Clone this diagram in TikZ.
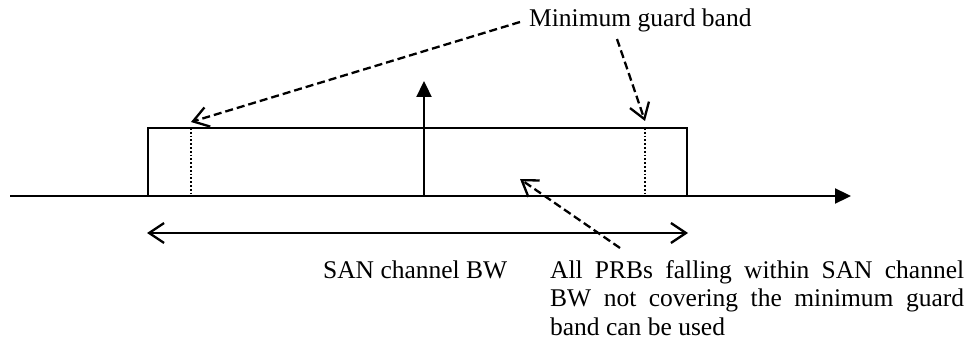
\documentclass[tikz,border=0pt]{standalone}
\usepackage{fontspec}
\setmainfont{Liberation Serif}
\usetikzlibrary{arrows.meta}
\begin{document}
\begin{tikzpicture}[x=1pt,y=-1pt,
  line width=2.3pt,
  lbl/.style={inner sep=0pt,anchor=base west,font=\fontsize{25.5}{28.5}\selectfont},
  barb/.style={-{Straight Barb[length=15pt,width=20pt,line width=2.3pt]}},
  dbarb/.style={{Straight Barb[length=15pt,width=20pt,line width=2.3pt]}-{Straight Barb[length=15pt,width=20pt,line width=2.3pt]}},
  filled/.style={-{Triangle[length=16pt,width=15pt]}},
  dsh/.style={dash pattern=on 8pt off 4pt}]
\useasboundingbox (0,0) rectangle (967,342);
% axis
\coordinate (ax0) at (10,196);
\coordinate (ax1) at (851,196);
\draw[filled] (ax0) -- (ax1);
% channel box
\coordinate (bl) at (148,196);
\coordinate (tr) at (687,128);
\draw (bl) |- (tr) -- (687,196);
% vertical arrow
\coordinate (v0) at (424,196);
\coordinate (v1) at (424,81);
\draw[filled] (v0) -- (v1);
% dotted guard lines
\coordinate (g1t) at (191,128);
\coordinate (g1b) at (191,196);
\coordinate (g2t) at (645,128);
\coordinate (g2b) at (645,196);
\draw[line width=1.8pt,dotted] (g1t) -- (g1b);
\draw[line width=1.8pt,dotted] (g2t) -- (g2b);
% BW double arrow
\coordinate (bw0) at (147,233);
\coordinate (bw1) at (688,233);
\draw[dbarb] (bw0) -- (bw1);
% labels
\node[lbl] (mgb) at (528,27) {Minimum guard band};
\node[lbl] (san) at (322,278) {SAN channel BW};
\node[lbl,text width=414pt,align=justify] (prb) at (549,278) {All PRBs falling within SAN channel\linebreak BW not covering the minimum guard\linebreak band can be used};
% dashed arrows
\coordinate (m1s) at (520,22);
\coordinate (m1e) at (191,122);
\coordinate (m2s) at (617,39);
\coordinate (m2e) at (645,121);
\coordinate (p1s) at (620,248);
\coordinate (p1e) at (520,179);
\draw[dsh,barb] (m1s) -- (m1e);
\draw[dsh,barb] (m2s) -- (m2e);
\draw[dsh,barb] (p1s) -- (p1e);
\end{tikzpicture}
\end{document}
